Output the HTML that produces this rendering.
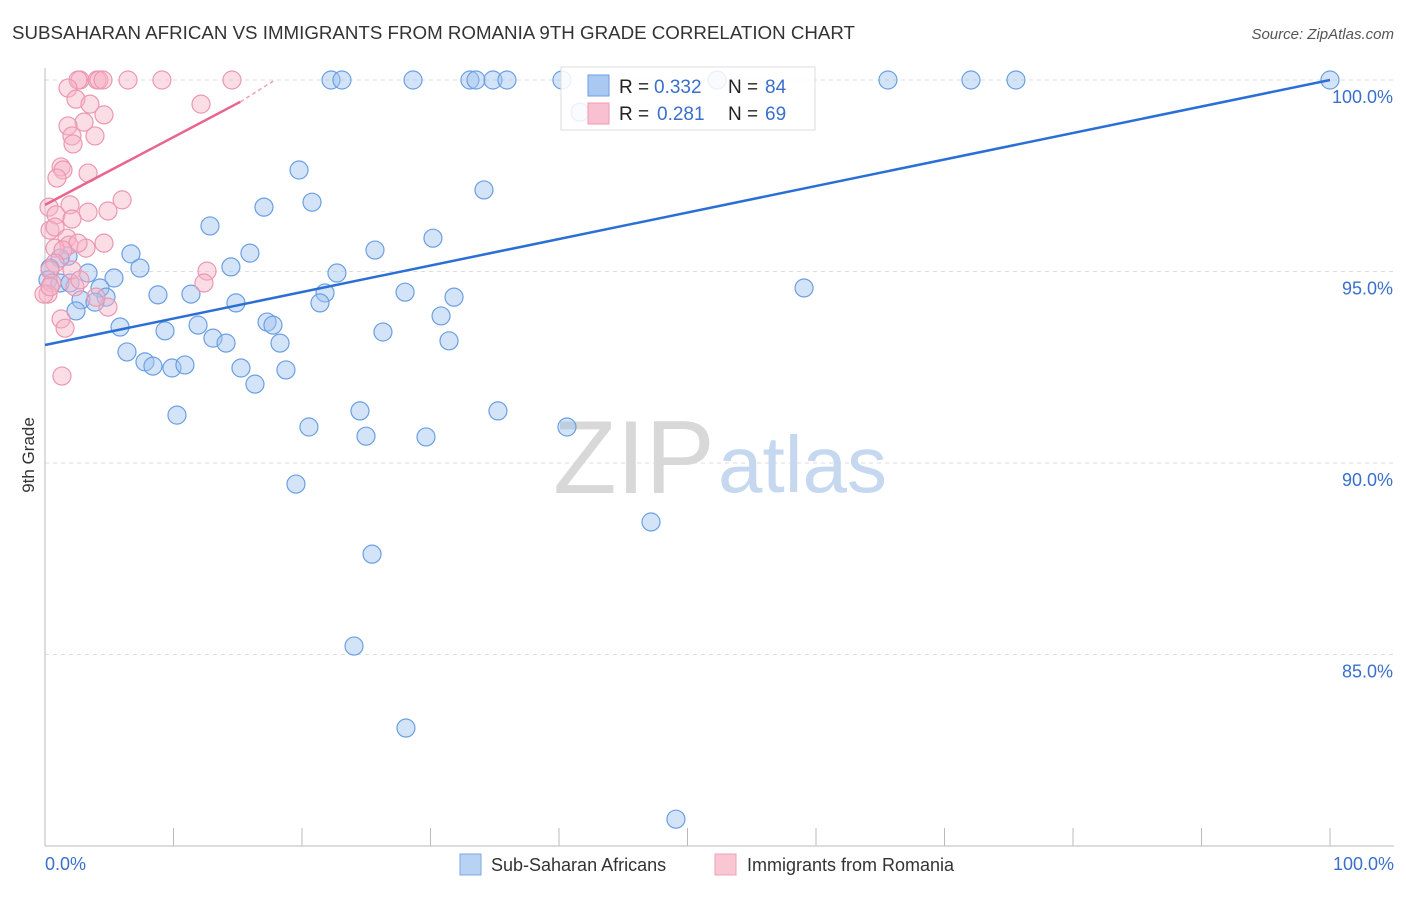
<!DOCTYPE html>
<html><head><meta charset="utf-8"><style>
body{margin:0;background:#fff;font-family:"Liberation Sans",sans-serif;}
svg text{font-family:"Liberation Sans",sans-serif;}
</style></head><body>
<svg id="chart" width="1406" height="892">
<text x="12" y="39" font-size="18" fill="#333" textLength="843" lengthAdjust="spacingAndGlyphs">SUBSAHARAN AFRICAN VS IMMIGRANTS FROM ROMANIA 9TH GRADE CORRELATION CHART</text>
<text x="1394" y="39" font-size="15" fill="#555" font-style="italic" text-anchor="end">Source: ZipAtlas.com</text>
<text x="34" y="455" font-size="17" fill="#333" transform="rotate(-90 34 455)" text-anchor="middle">9th Grade</text>
<g id="grid"></g>
<g id="watermark">
<text x="553" y="493" font-size="104" font-family="Liberation Serif" fill="#d8d8d8">ZIP</text>
<text x="718" y="492" font-size="80" fill="#c5d8ef">atlas</text>
</g>
<g id="pts"></g>
<g id="lines"></g>
<g>
<rect x="561" y="67" width="254" height="63" fill="rgba(255,255,255,0.85)" stroke="#ddd"/>
<rect x="588" y="75" width="21" height="21" fill="#a9c8f2" stroke="#6d9ee6"/>
<rect x="588" y="103" width="21" height="21" fill="#f8c0d0" stroke="#ef9ab3"/>
<text x="619" y="93" font-size="19" fill="#222">R =</text>
<text x="654" y="93" font-size="19" fill="#3a6fcc">0.332</text>
<text x="728" y="93" font-size="19" fill="#222">N =</text>
<text x="765" y="93" font-size="19" fill="#3a6fcc">84</text>
<text x="619" y="120" font-size="19" fill="#222">R =</text>
<text x="657" y="120" font-size="19" fill="#3a6fcc">0.281</text>
<text x="728" y="120" font-size="19" fill="#222">N =</text>
<text x="765" y="120" font-size="19" fill="#3a6fcc">69</text>
</g>
<g>
<rect x="460" y="854" width="21" height="21" fill="#b8d2f4" stroke="#7ea6e4"/>
<text x="491" y="871" font-size="18" fill="#333">Sub-Saharan Africans</text>
<rect x="715" y="854" width="21" height="21" fill="#f9c6d4" stroke="#eea0b8"/>
<text x="747" y="871" font-size="18" fill="#333">Immigrants from Romania</text>
</g>
<text x="45" y="870" font-size="18" fill="#3a6fcc">0.0%</text>
<text x="1394" y="870" font-size="18" fill="#3a6fcc" text-anchor="end">100.0%</text>
</svg>
<script>
const yTicks=[100,95,90,85];
const yTickLabels=["100.0%","95.0%","90.0%","85.0%"];
// blue: Sub-Saharan Africans
const blueX=[22.26,23.11,28.64,33.07,33.54,34.86,35.95,40.23,65.6,72.06,75.56,100,41.63,19.77,34.16,20.78,17.04,12.84,30.19,25.68,15.95,6.69,1.79,14.47,7.39,22.72,3.35,5.37,4.28,59.07,8.79,11.36,21.79,28.02,31.83,4.75,2.8,3.89,14.86,21.4,2.41,30.82,5.84,17.28,17.74,11.91,9.34,26.3,13.07,14.09,31.44,18.29,6.38,7.78,8.4,9.88,10.89,15.25,18.75,16.34,10.27,24.51,35.25,20.54,40.62,24.98,29.65,19.53,47.16,25.45,24.05,28.09,49.1,1.17,0.39,0.23,1.17,1.95,52.3];
const blueY=[100,100,100,100,100,100,100,100,100,100,100,100,99.16,97.65,97.13,96.81,96.68,96.19,95.87,95.56,95.48,95.46,95.4,95.12,95.09,94.96,94.96,94.83,94.57,94.57,94.39,94.41,94.44,94.46,94.33,94.33,94.26,94.2,94.18,94.18,93.97,93.84,93.55,93.68,93.6,93.6,93.45,93.42,93.26,93.13,93.19,93.13,92.9,92.64,92.53,92.48,92.56,92.48,92.43,92.06,91.25,91.36,91.36,90.94,90.94,90.7,90.68,89.45,88.46,87.62,85.22,83.08,80.7,95.35,95.09,94.78,94.7,94.7,100];
// pink: Immigrants from Romania
const pinkX=[2.72,2.57,4.05,4.2,4.51,6.46,9.1,14.55,1.79,2.41,3.5,12.14,4.59,3.04,1.79,2.1,3.89,2.18,3.35,1.25,1.4,0.93,0.31,3.35,4.9,6.0,1.95,0.86,2.1,0.39,0.78,1.71,1.87,3.19,4.59,2.57,0.78,1.4,0.78,0.39,2.1,2.33,12.61,12.37,0.54,0.23,4.9,1.25,1.56,1.32,2.72,3.97,-0.08,0.39];
const pinkY=[100,100,100,100,100,100,100,100,99.79,99.5,99.37,99.37,99.09,98.9,98.8,98.54,98.54,98.33,97.57,97.73,97.65,97.44,96.68,96.55,96.58,96.87,96.74,96.48,96.37,96.08,96.16,95.87,95.69,95.61,95.74,95.74,95.61,95.56,95.22,95.04,95.04,94.6,95.01,94.7,94.7,94.41,94.07,93.76,93.52,92.27,94.78,94.33,94.41,94.6];
const blueTrend=[[0,93.08],[100,100]];
const pinkTrend=[[0,96.74],[15.2,99.43],[17.9,100]];
const X0=45,X1=1330,Y100=80,PXPER=38.3;
const xs=v=>X0+(X1-X0)*v/100;
const ys=v=>Y100+(100-v)*PXPER;
const NS="http://www.w3.org/2000/svg";
function mk(t,a,p){const e=document.createElementNS(NS,t);for(const k in a)e.setAttribute(k,a[k]);p.appendChild(e);return e;}
const grid=document.getElementById('grid');
yTicks.forEach((t,i)=>{
 const l=mk('line',{x1:45,x2:1394,y1:ys(t),y2:ys(t),stroke:'#ddd','stroke-dasharray':'4,4'},grid);
 
 
 const tx=mk('text',{x:1393,y:ys(t)+23,'font-size':18,fill:'#3a6fcc','text-anchor':'end'},grid);
 tx.textContent=yTickLabels[i];
 
 
});
const ax=mk('line',{x1:45,x2:45,y1:68,y2:846,stroke:'#bbb'},grid);


const bx=mk('line',{x1:45,x2:1394,y1:846,y2:846,stroke:'#bbb'},grid);


for(let i=0;i<=10;i++){
 const tk=mk('line',{x1:xs(i*10),x2:xs(i*10),y1:828,y2:846,stroke:'#bbb'},grid);
 
 
}
const pts=document.getElementById('pts');
blueX.forEach((v,i)=>{
 const c=mk('circle',{cx:xs(v),cy:ys(blueY[i]),r:9,fill:'rgba(160,195,240,0.45)',stroke:'#6a9fe3','stroke-width':1.2},pts);
 
 
});
pinkX.forEach((v,i)=>{
 const c=mk('circle',{cx:xs(v),cy:ys(pinkY[i]),r:9,fill:'rgba(246,180,200,0.45)',stroke:'#ec97b1','stroke-width':1.2},pts);
 
 
});
const lines=document.getElementById('lines');
const bl=mk('line',{x1:xs(blueTrend[0][0]),y1:ys(blueTrend[0][1]),x2:xs(blueTrend[1][0]),y2:ys(blueTrend[1][1]),stroke:'#2a6fd6','stroke-width':2.5},lines);


const pl=mk('line',{x1:xs(pinkTrend[0][0]),y1:ys(pinkTrend[0][1]),x2:xs(pinkTrend[1][0]),y2:ys(pinkTrend[1][1]),stroke:'#e8658f','stroke-width':2.5},lines);


const pd=mk('line',{x1:xs(pinkTrend[1][0]),y1:ys(pinkTrend[1][1]),x2:xs(pinkTrend[2][0]),y2:ys(pinkTrend[2][1]),stroke:'#eea0b8','stroke-width':1.5,'stroke-dasharray':'4,3'},lines);


</script>
</body></html>
